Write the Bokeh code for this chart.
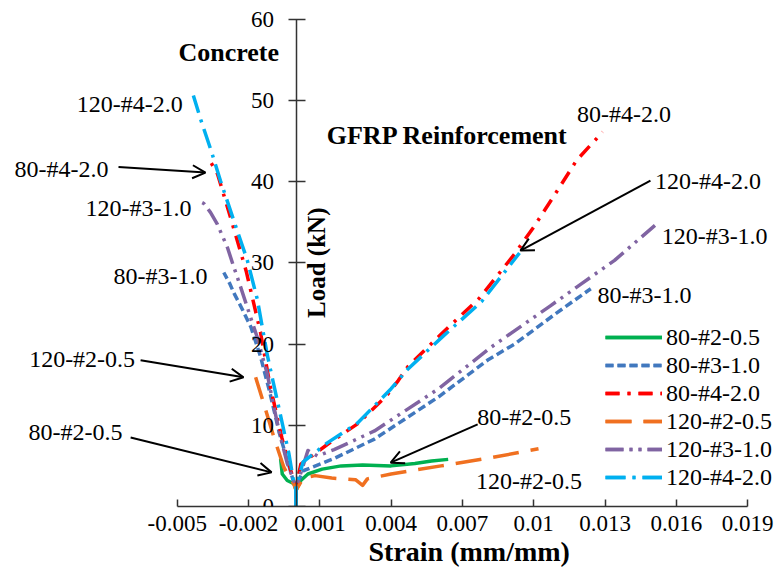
import math
from bokeh.plotting import figure
from bokeh.models import (Range1d, LinearAxis, FixedTicker, Label, Arrow, OpenHead,
                          Legend, LegendItem, Title)
from bokeh.embed import file_html
from bokeh.resources import INLINE

# ---------------- data ----------------
series_names = ["80-#2-0.5", "80-#3-1.0", "80-#4-2.0", "120-#2-0.5", "120-#3-1.0", "120-#4-2.0"]

# 80-#2-0.5
s1_conc_strain = [0, 0, -0.00009, -0.00037, -0.00058, -0.00065]
s1_conc_load = [0, 2.0, 2.8, 3.2, 4.0, 5.9]
s1_gfrp_strain = [0, 0, 0.0002, 0.0005, 0.0011, 0.0019, 0.0028, 0.0040, 0.0050, 0.0057, 0.0064]
s1_gfrp_load = [0, 2.0, 3.2, 4.0, 4.6, 5.0, 5.1, 5.0, 5.3, 5.6, 5.8]

# 80-#3-1.0
s2_conc_strain = [0, 0, -0.0001, -0.0003, -0.0007, -0.0011, -0.0015, -0.0019, -0.0023, -0.0026, -0.0028, -0.00304]
s2_conc_load = [0, 2.5, 3.0, 5.0, 9.0, 14.0, 18.5, 22.1, 24.5, 26.2, 27.5, 28.8]
s2_gfrp_strain = [0, 0, 0.0003, 0.0016, 0.0033, 0.0060, 0.0081, 0.0092, 0.0110, 0.0124]
s2_gfrp_load = [0, 2.5, 4.4, 5.9, 8.3, 13.5, 18.1, 20.0, 23.9, 26.8]

# 80-#4-2.0
s3_conc_strain = [0, 0, -0.0002, -0.0006, -0.0011, -0.0015, -0.0021, -0.0028, -0.0033, -0.00363]
s3_conc_load = [0, 2.5, 4.2, 8.5, 15.0, 21.5, 29.0, 36.0, 40.9, 42.6]
s3_gfrp_strain = [0, 0, 0.0002, 0.0013, 0.0026, 0.0038, 0.0043, 0.0047, 0.0061, 0.0077, 0.0092, 0.0100, 0.0110, 0.0118, 0.0129]
s3_gfrp_load = [0, 2.5, 5.2, 7.6, 10.2, 13.6, 15.5, 17.2, 21.2, 25.6, 31.1, 34.4, 38.9, 42.6, 46.1]

# 120-#2-0.5
s4_conc_strain = [0, 0, -0.0001, -0.00023, -0.00051, -0.00093, -0.00135, -0.0017]
s4_conc_load = [0, 2.0, 2.8, 3.4, 4.8, 8.5, 12.6, 15.9]
s4_gfrp_strain = [0, 0, 0.0003, 0.0008, 0.0015, 0.0025, 0.0028, 0.0030, 0.0040, 0.0061, 0.0082, 0.0102]
s4_gfrp_load = [0, 2.0, 3.5, 3.8, 3.5, 3.3, 2.6, 3.4, 4.0, 5.0, 6.0, 7.1]

# 120-#3-1.0
s5_conc_strain = [0, 0, -0.0001, -0.00037, -0.00065, -0.00093, -0.00121, -0.00163, -0.00205, -0.00233,
                  -0.00262, -0.00289, -0.00332, -0.0036, -0.00388, -0.00416]
s5_conc_load = [0, 2.5, 3.2, 5.3, 8.5, 12.2, 16.3, 20.8, 24.5, 27.0, 29.5, 31.9, 34.8, 36.2, 37.3, 37.7]
s5_gfrp_strain = [0, 0, 0.0001, 0.0005, 0.0009, 0.0016, 0.0033, 0.0060, 0.0082, 0.0107, 0.0120, 0.0134, 0.0151]
s5_gfrp_load = [0, 2.5, 3.2, 6.9, 6.2, 7.0, 9.3, 14.5, 19.6, 24.7, 27.4, 30.3, 34.6]

# 120-#4-2.0
s6_conc_strain = [0, 0, -0.0001, -0.0003, -0.0006, -0.0009, -0.0012, -0.00163, -0.00205, -0.00262,
                  -0.00318, -0.00355, -0.00402, -0.00432]
s6_conc_load = [0, 2.5, 3.0, 6.5, 10.5, 14.5, 18.5, 25.5, 30.3, 35.2, 40.1, 43.6, 47.7, 50.6]
s6_gfrp_strain = [0, 0, 0.0003, 0.0013, 0.0026, 0.0040, 0.0047, 0.0062, 0.0078, 0.0094]
s6_gfrp_load = [0, 2.5, 5.5, 7.8, 10.3, 14.5, 16.9, 21.0, 25.2, 31.2]

x_ticks = [-0.005, -0.002, 0.001, 0.004, 0.007, 0.010, 0.013, 0.016, 0.019]
x_tick_labels = ["-0.005", "-0.002", "0.001", "0.004", "0.007", "0.01", "0.013", "0.016", "0.019"]
y_ticks = [0, 10, 20, 30, 40, 50, 60]
y_tick_labels = ["0", "10", "20", "30", "40", "50", "60"]

# ---------------- styles ----------------
colors = ["#00B050", "#4178BE", "#FF0000", "#F07020", "#8064A2", "#00B0F0"]
dashes = ["solid", "8 4", "14 8 3 8", "26 12", "18 6 3 6 3 6", "20 7 3 7"]
LW = 3.5
FONT = "Liberation Serif"
AX_COL = "#333333"

# frame spans almost the whole canvas so that nothing gets clipped;
# ranges chosen so that the axes sit where the reference has them
p = figure(width=778, height=573,
           x_range=Range1d(-0.012013, 0.020297), y_range=Range1d(0, 62.28),
           x_axis_type=None, y_axis_type=None, toolbar_location=None, output_backend="svg",
           min_border_left=10, min_border_right=0, min_border_top=0, min_border_bottom=67)
p.outline_line_color = None
p.background_fill_color = "white"
p.border_fill_color = "white"

xaxis = LinearAxis(ticker=FixedTicker(ticks=x_ticks), bounds=(x_ticks[0], x_ticks[-1]),
                   major_label_overrides={t: s for t, s in zip(x_ticks, x_tick_labels)},
                   major_label_text_font=FONT, major_label_text_font_size="23px",
                   major_label_text_color="black",
                   major_tick_in=7, major_tick_out=0, minor_tick_line_color=None,
                   axis_line_width=1.5, axis_line_color=AX_COL,
                   major_tick_line_color=AX_COL, major_tick_line_width=1.5,
                   major_label_standoff=9)
p.add_layout(xaxis, "below")

# x-axis title, centred under the axis span (not under the whole frame)
p.add_layout(Title(text="Strain (mm/mm)", align="left", offset=358, standoff=0,
                   text_font=FONT, text_font_style="bold", text_font_size="28px",
                   text_color="black"), "below")

yaxis = LinearAxis(fixed_location=0, ticker=FixedTicker(ticks=y_ticks), bounds=(0, 60),
                   major_label_overrides={t: "" for t in y_ticks},
                   major_label_standoff=0,
                   major_tick_in=9, major_tick_out=8, minor_tick_line_color=None,
                   axis_line_width=1.5, axis_line_color=AX_COL,
                   major_tick_line_color=AX_COL, major_tick_line_width=1.5)
p.add_layout(yaxis, "left")

# y tick labels, placed left of the axis line at x = 0
for t, s in zip(y_ticks, y_tick_labels):
    p.add_layout(Label(x=0, y=t, text=s, x_offset=-22, text_font=FONT, text_font_size="23px",
                       text_align="right", text_baseline="middle", text_color="black"))

data = [
    (s1_conc_strain, s1_conc_load, s1_gfrp_strain, s1_gfrp_load),
    (s2_conc_strain, s2_conc_load, s2_gfrp_strain, s2_gfrp_load),
    (s3_conc_strain, s3_conc_load, s3_gfrp_strain, s3_gfrp_load),
    (s4_conc_strain, s4_conc_load, s4_gfrp_strain, s4_gfrp_load),
    (s5_conc_strain, s5_conc_load, s5_gfrp_strain, s5_gfrp_load),
    (s6_conc_strain, s6_conc_load, s6_gfrp_strain, s6_gfrp_load),
]

items = []
for name, (cs, cl, gs, gl), col, dash in zip(series_names, data, colors, dashes):
    r1 = p.line(cs, cl, line_color=col, line_width=LW, line_dash=dash, line_join="round")
    r2 = p.line(gs, gl, line_color=col, line_width=LW, line_dash=dash, line_join="round")
    items.append(LegendItem(label=name, renderers=[r1, r2]))

legend = Legend(items=items, location=(595, 15), glyph_width=57, glyph_height=28,
                label_height=28, label_standoff=4, spacing=0, padding=0, margin=0,
                border_line_color=None, background_fill_alpha=0,
                label_text_font=FONT, label_text_font_size="24px", label_text_color="black")
p.add_layout(legend)

# ---------------- annotations ----------------
titles = [("Concrete", -0.00283, 55.9), ("GFRP Reinforcement", 0.00637, 45.7)]
for t, x, y in titles:
    p.add_layout(Label(x=x, y=y, text=t, text_font=FONT, text_font_style="bold",
                       text_font_size="26px", text_align="center", text_baseline="middle",
                       text_color="black"))

p.add_layout(Label(x=0.00088, y=30.0, text="Load (kN)", angle=math.pi / 2, text_font=FONT,
                   text_font_style="bold", text_font_size="25px", text_align="center",
                   text_baseline="middle", text_color="black"))

curve_labels = [
    ("120-#4-2.0", -0.0070, 49.6),
    ("80-#4-2.0", -0.00987, 41.5),
    ("120-#3-1.0", -0.00663, 36.8),
    ("80-#3-1.0", -0.0057, 28.4),
    ("120-#2-0.5", -0.0090, 18.2),
    ("80-#2-0.5", -0.00928, 9.2),
    ("80-#4-2.0", 0.0138, 48.3),
    ("120-#4-2.0", 0.01733, 40.1),
    ("120-#3-1.0", 0.01761, 33.35),
    ("80-#3-1.0", 0.01466, 26.0),
    ("80-#2-0.5", 0.0096, 11.0),
    ("120-#2-0.5", 0.0098, 3.1),
]
for t, x, y in curve_labels:
    p.add_layout(Label(x=x, y=y, text=t, text_font=FONT, text_font_size="24px",
                       text_align="center", text_baseline="middle", text_color="black"))

arrows = [
    (-0.00747, 41.8, -0.00381, 41.1),
    (-0.00654, 18.0, -0.00221, 15.9),
    (-0.00696, 8.5, -0.00103, 4.2),
    (0.01491, 40.1, 0.00944, 31.5),
    (0.00764, 10.1, 0.00398, 5.4),
]
for xs, ys, xe, ye in arrows:
    p.add_layout(Arrow(end=OpenHead(size=13, line_width=2, line_color="black"),
                       x_start=xs, y_start=ys, x_end=xe, y_end=ye,
                       line_width=2, line_color="black"))

open("out.html", "w").write(file_html(p, INLINE))
